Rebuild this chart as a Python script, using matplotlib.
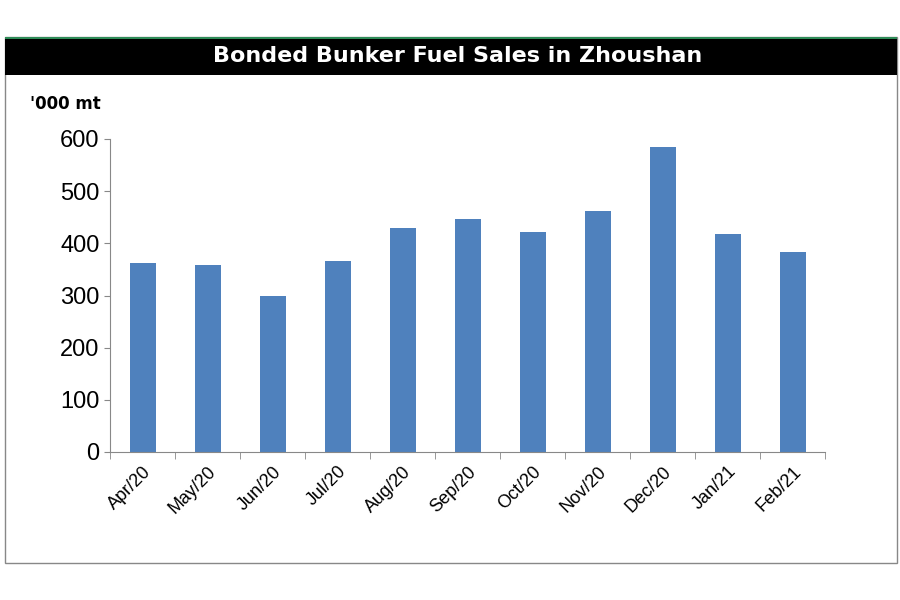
import matplotlib
matplotlib.use("Agg")
import matplotlib.pyplot as plt
from matplotlib.patches import Rectangle

plt.rcParams["font.family"] = "Liberation Sans"

months = ["Apr/20","May/20","Jun/20","Jul/20","Aug/20","Sep/20","Oct/20","Nov/20","Dec/20","Jan/21","Feb/21"]
sales = [362, 358, 299, 366, 429, 447, 422, 462, 585, 418, 383]
yticks = [0, 100, 200, 300, 400, 500, 600]

fig = plt.figure(figsize=(9, 6), dpi=100)
fig.patch.set_facecolor("white")
fig.add_artist(Rectangle((5/900, 1-563/600), 892/900, 526/600, transform=fig.transFigure,
                         fill=False, edgecolor="#888888", lw=1))
fig.add_artist(Rectangle((5/900, 1-75/600), 892/900, 37/600, transform=fig.transFigure,
                         facecolor="black", edgecolor="none"))
fig.add_artist(Rectangle((5/900, 1-39/600), 892/900, 2/600, transform=fig.transFigure,
                         facecolor="#2e8b57", edgecolor="none"))
fig.text(458/900, 1-56/600, "Bonded Bunker Fuel Sales in Zhoushan", color="white",
         fontsize=16, fontweight="bold", ha="center", va="center", family="DejaVu Sans")
fig.text(30/900, 1-104/600, "'000 mt", fontsize=12, fontweight="bold", ha="left", va="center",
         family="DejaVu Sans")

ax = fig.add_axes([110/900, 1-452/600, 715/900, (452-139)/600])
x = range(len(months))
ax.bar(x, sales, width=0.4, color="#4F81BD")
ax.set_ylim(0, 600)
ax.set_xlim(-0.5, len(months)-0.5)
ax.set_yticks(yticks)
ax.set_yticklabels([str(v) for v in yticks], fontsize=17)
ax.set_xticks(list(x))
ax.set_xticklabels(months, rotation=45, ha="right", rotation_mode="anchor", fontsize=13)
for s in ["top", "right"]:
    ax.spines[s].set_visible(False)
ax.spines["left"].set_color("#888888")
ax.spines["bottom"].set_color("#888888")
ax.tick_params(axis="y", length=4, color="#888888")
ax.tick_params(axis="x", length=0, pad=8)
ax.set_xticks([i + 0.5 for i in range(-1, len(months))], minor=True)
ax.tick_params(axis="x", which="minor", length=5, color="#888888")
fig.savefig("out.png", dpi=100)
